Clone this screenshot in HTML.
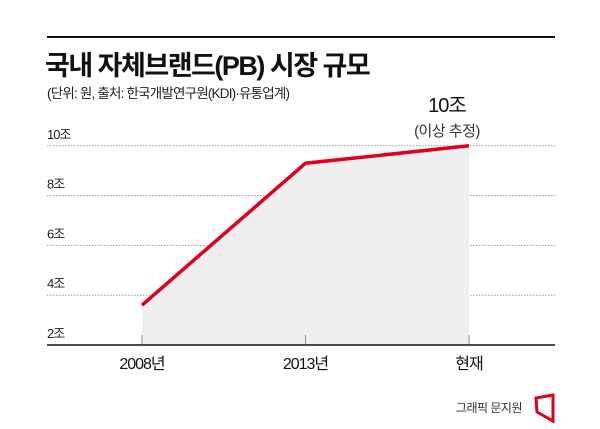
<!DOCTYPE html>
<html><head><meta charset="utf-8"><style>
body{margin:0;background:#fff;}
svg text{font-family:"Liberation Sans","Noto Sans CJK KR",sans-serif;}
</style></head><body>
<svg width="600" height="424" viewBox="0 0 600 424" id="c">
<line x1="47" y1="37" x2="555" y2="37" stroke="#111" stroke-width="2"/>
<text x="45" y="75" font-size="27" font-weight="bold" fill="#111" letter-spacing="-1.5">국내 자체브랜드(PB) 시장 규모</text>
<text x="47" y="98" font-size="13.5" fill="#222" letter-spacing="-0.8">(단위: 원, 출처: 한국개발연구원(KDI)·유통업계)</text>
<g id="grid"></g>
<g id="plot"></g>
<text x="447" y="112" font-size="20" fill="#111" text-anchor="middle" letter-spacing="-1">10조</text>
<text x="447" y="136" font-size="15" fill="#333" text-anchor="middle" letter-spacing="-0.5">(이상 추정)</text>
<text x="522" y="412" font-size="12" fill="#333" text-anchor="end" letter-spacing="-0.5">그래픽 문지원</text>
<path d="M536 398 L553 395 L553 421 L537 412 Z" fill="none" stroke="#e0001b" stroke-width="3"/>
</svg>
<script>
const categories=["2008년","2013년","현재"];
const values=[3.6,9.3,10];
const ticks=[2,4,6,8,10];
const tickLabels=["2조","4조","6조","8조","10조"];
const NS="http://www.w3.org/2000/svg";
const xPos=[142,305,469];
function x(i){return xPos[0]+(xPos[2]-xPos[0])*i/(categories.length-1);}
function y(v){return 345-(v-2)*24.9;}
function mk(t,a,p){const e=document.createElementNS(NS,t);for(const k in a)e.setAttribute(k,a[k]);p.appendChild(e);return e;}
const g=document.getElementById('grid'),p=document.getElementById('plot');
// area
let d="M"+x(0)+" "+y(2);
values.forEach((v,i)=>{d+=" L"+x(i)+" "+y(v);});
d+=" L"+x(values.length-1)+" "+y(2)+" Z";
const area=mk('path',{d:d,fill:"#efefef"},p);


ticks.forEach((t,i)=>{
  if(t>2){const l=mk('line',{x1:47,x2:555,y1:y(t),y2:y(t),stroke:"#999","stroke-width":1,"stroke-dasharray":"1.5,1.5"},g);
  
  }
  const tx=mk('text',{x:47,y:y(t)-7,"font-size":13,fill:"#222","letter-spacing":"-1"},g);
  tx.textContent=tickLabels[i];
  
  
});
categories.forEach((c,i)=>{
  const tk=mk('line',{x1:x(i),x2:x(i),y1:y(2)-10,y2:y(2),stroke:"#888","stroke-width":1},p);
  
  
  const tx=mk('text',{x:x(i),y:y(2)+24,"font-size":16,fill:"#111","text-anchor":"middle","letter-spacing":"-1"},p);
  tx.textContent=c;
  
  
});
const ax=mk('line',{x1:47,x2:555,y1:y(2),y2:y(2),stroke:"#111","stroke-width":1.5},p);


const line=mk('polyline',{points:values.map((v,i)=>x(i)+","+y(v)).join(" "),fill:"none",stroke:"#e0001b","stroke-width":3.5,"stroke-linejoin":"miter"},p);


</script>
</body></html>
